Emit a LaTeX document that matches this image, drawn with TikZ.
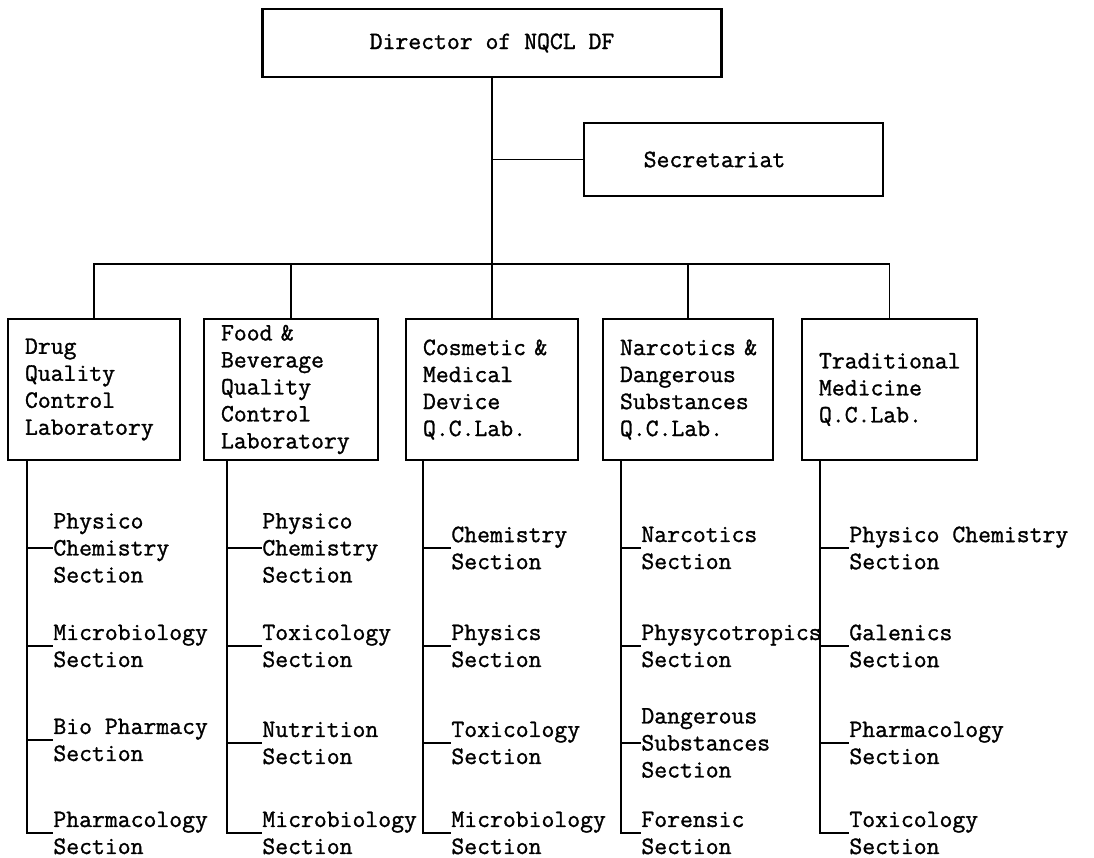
\documentclass[tikz,border=0pt]{standalone}
\usepackage{fontspec}
\newfontfamily\typewfont{Latin Modern Mono}[FakeBold=1.2]
\newcommand{\chartfont}{\typewfont\fontsize{12.5}{13.5}\selectfont}
\tikzset{
  box/.style={draw, line width=1.1pt, inner sep=0pt, font=\chartfont},
  lab/.style={draw, line width=1.1pt, minimum height=70.5pt, inner xsep=8.5pt,
    inner ysep=0pt, text width=#1, align=left, font=\chartfont},
  sect/.style={anchor=west, inner sep=0pt, align=left, font=\chartfont},
  link/.style={line width=0.9pt}
}
\begin{document}
\begin{tikzpicture}[x=0.5pt, y=-0.5pt]
\useasboundingbox (0,0) rectangle (1094,858);
% director and secretariat
\node[box, minimum width=229.5pt, minimum height=34pt] (dir) at (492,43) {Director of NQCL DF};
\node[box, minimum width=149.5pt, minimum height=36.5pt] (sec) at (733.5,159.5) {Secretariat\kern19pt};
% laboratories
\node[lab=69pt] (drug) at (94,389.5) {Drug\\Quality\\Control\\Laboratory};
\node[lab=70pt] (food) at (291,389.5) {Food \&\\Beverage\\Quality\\Control\\Laboratory};
\node[lab=69pt] (cosm) at (492,389.5) {Cosmetic~\&\\Medical\\Device\\Q.C.Lab.};
\node[lab=68pt] (narc) at (688,389.5) {Narcotics~\&\\Dangerous\\Substances\\Q.C.Lab.};
\node[lab=70.5pt] (trad) at (889.5,389.5) {Traditional\\Medicine\\Q.C.Lab.};
\coordinate (bus) at (492,264);
\draw[link] (dir.south) -- (cosm.north);
\draw[link] (dir.south |- sec.west) -- (sec.west);
\draw[link] (drug.north) |- (bus) -| (trad.north);
\draw[link] (food.north) -- (food.north |- bus);
\draw[link] (narc.north) -- (narc.north |- bus);
% drug sections
\node[sect] (drug1) at (53,548) {Physico\\Chemistry\\Section};
\node[sect] (drug2) at (53,646) {Microbiology\\Section};
\node[sect] (drug3) at (53,740) {Bio Pharmacy\\Section};
\node[sect] (drug4) at (53,833) {Pharmacology\\Section};
\draw[link] (drug.south west) ++(20,0) coordinate (drugT) |- (drug4.west);
\foreach \s in {1,2,3}
  \draw[link] (drugT |- drug\s.west) -- (drug\s.west);
% food sections
\node[sect] (food1) at (262,548) {Physico\\Chemistry\\Section};
\node[sect] (food2) at (262,646) {Toxicology\\Section};
\node[sect] (food3) at (262,743) {Nutrition\\Section};
\node[sect] (food4) at (262,833) {Microbiology\\Section};
\draw[link] (food.south west) ++(24,0) coordinate (foodT) |- (food4.west);
\foreach \s in {1,2,3}
  \draw[link] (foodT |- food\s.west) -- (food\s.west);
% cosmetic sections
\node[sect] (cosm1) at (451,548) {Chemistry\\Section};
\node[sect] (cosm2) at (451,646) {Physics\\Section};
\node[sect] (cosm3) at (451,743) {Toxicology\\Section};
\node[sect] (cosm4) at (451,833) {Microbiology\\Section};
\draw[link] (cosm.south west) ++(18,0) coordinate (cosmT) |- (cosm4.west);
\foreach \s in {1,2,3}
  \draw[link] (cosmT |- cosm\s.west) -- (cosm\s.west);
% narcotics sections
\node[sect] (narc1) at (641,548) {Narcotics\\Section};
\node[sect] (narc2) at (641,646) {Physycotropics\\Section};
\node[sect] (narc3) at (641,743) {Dangerous\\Substances\\Section};
\node[sect] (narc4) at (641,833) {Forensic\\Section};
\draw[link] (narc.south west) ++(19,0) coordinate (narcT) |- (narc4.west);
\foreach \s in {1,2,3}
  \draw[link] (narcT |- narc\s.west) -- (narc\s.west);
% traditional medicine sections
\node[sect] (trad1) at (849,548) {Physico Chemistry\\Section};
\node[sect] (trad2) at (849,646) {Galenics\\Section};
\node[sect] (trad3) at (849,743) {Pharmacology\\Section};
\node[sect] (trad4) at (849,833) {Toxicology\\Section};
\draw[link] (trad.south west) ++(19,0) coordinate (tradT) |- (trad4.west);
\foreach \s in {1,2,3}
  \draw[link] (tradT |- trad\s.west) -- (trad\s.west);
\end{tikzpicture}
\end{document}
